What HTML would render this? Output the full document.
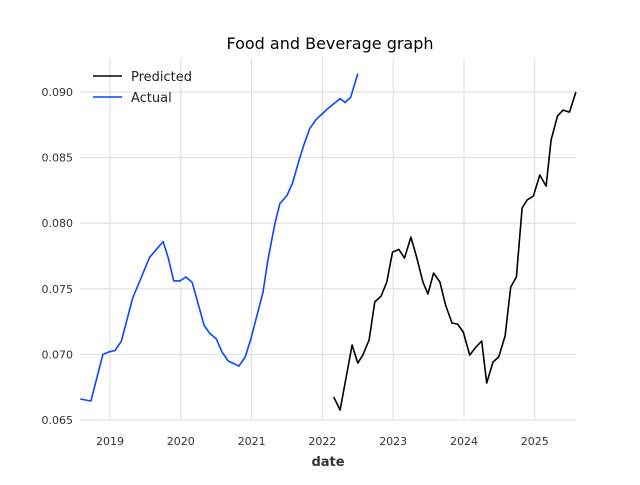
<!DOCTYPE html>
<html><head><meta charset="utf-8"><style>
body{margin:0;background:#fff;}
svg{font-family:"DejaVu Sans","Liberation Sans",sans-serif;}
</style></head><body>
<svg id="chart" width="640" height="480" xmlns="http://www.w3.org/2000/svg">
<text x="330" y="49" text-anchor="middle" font-size="16" fill="#000">Food and Beverage graph</text>
<text x="328" y="466" text-anchor="middle" font-size="13" font-weight="bold" fill="#333">date</text>
<g id="grid"></g><g id="ticks"></g><g id="series"></g>
<g>
<line x1="93" y1="76" x2="122" y2="76" stroke="#000" stroke-width="1.6"/>
<text x="131" y="81" font-size="13" fill="#222">Predicted</text>
<line x1="93" y1="97" x2="122" y2="97" stroke="#0a46ff" stroke-width="1.6"/>
<text x="131" y="102" font-size="13" fill="#222">Actual</text>
</g>
</svg>
<script>
const xTicks=[2019,2020,2021,2022,2023,2024,2025];
const yTicks=[0.065,0.070,0.075,0.080,0.085,0.090];
const actualDates=[2018.58,2018.73,2018.90,2018.99,2019.07,2019.16,2019.32,2019.56,2019.75,2019.82,2019.90,2019.99,2020.07,2020.16,2020.33,2020.41,2020.50,2020.58,2020.67,2020.75,2020.82,2020.91,2020.99,2021.16,2021.23,2021.33,2021.40,2021.50,2021.58,2021.66,2021.74,2021.82,2021.91,2022.01,2022.09,2022.25,2022.32,2022.40,2022.50];
const actualValues=[0.0666,0.06645,0.0700,0.0702,0.0703,0.0710,0.0743,0.0774,0.0786,0.0774,0.0756,0.0756,0.0759,0.0755,0.0722,0.0716,0.0712,0.0702,0.0695,0.0693,0.0691,0.0698,0.0712,0.0747,0.0772,0.0800,0.0815,0.0821,0.0831,0.0846,0.0860,0.0872,0.0879,0.0884,0.0888,0.0895,0.0892,0.0896,0.0914];
const predDates=[2022.16,2022.25,2022.42,2022.50,2022.57,2022.66,2022.74,2022.83,2022.91,2022.99,2023.08,2023.16,2023.25,2023.33,2023.42,2023.49,2023.57,2023.66,2023.74,2023.83,2023.91,2023.99,2024.08,2024.16,2024.25,2024.32,2024.41,2024.49,2024.58,2024.66,2024.74,2024.82,2024.89,2024.98,2025.07,2025.16,2025.23,2025.32,2025.40,2025.49,2025.58];
const predValues=[0.06675,0.06576,0.07072,0.06934,0.06995,0.0711,0.0740,0.07445,0.07552,0.0778,0.0780,0.07734,0.07894,0.07742,0.07552,0.0746,0.0762,0.07552,0.07376,0.07239,0.07231,0.0717,0.06995,0.0705,0.07102,0.06782,0.06942,0.0698,0.0714,0.07513,0.0759,0.08115,0.08176,0.08207,0.08367,0.08283,0.08634,0.08817,0.08862,0.08847,0.0900];
const L=80,R=576,T=58,B=420;
function xs(d){return 110+(d-2019)*70.8;}
function ys(v){return 420-(v-0.065)/0.005*65.6;}
const NS="http://www.w3.org/2000/svg";
function mk(tag,attrs,parent){const e=document.createElementNS(NS,tag);for(const k in attrs)e.setAttribute(k,attrs[k]);parent.appendChild(e);return e;}
const grid=document.getElementById('grid'),ticks=document.getElementById('ticks'),series=document.getElementById('series');
xTicks.forEach(t=>{const x=xs(t);
 const g=mk('line',{x1:x,x2:x,y1:T,y2:B,stroke:'#dddddd','stroke-width':1},grid);
 
 
 const tx=mk('text',{x:x,y:445,'text-anchor':'middle','font-size':11,fill:'#333'},ticks);
 tx.textContent=t;
 
 
});
yTicks.forEach(t=>{const y=ys(t);
 const g=mk('line',{x1:L,x2:R,y1:y,y2:y,stroke:'#dddddd','stroke-width':1},grid);
 
 
 const tx=mk('text',{x:73,y:y+4,'text-anchor':'end','font-size':11,fill:'#333'},ticks);
 tx.textContent=t.toFixed(3);
 
 
});
function line(ds,vs,col,name){
 const p=mk('polyline',{points:ds.map((d,i)=>xs(d).toFixed(1)+','+ys(vs[i]).toFixed(1)).join(' '),fill:'none',stroke:col,'stroke-width':1.6,'stroke-linejoin':'round'},series);
 
 
}
line(actualDates,actualValues,'#0a46ff','actual-line');
line(predDates,predValues,'#000000','predicted-line');
</script>
</body></html>
